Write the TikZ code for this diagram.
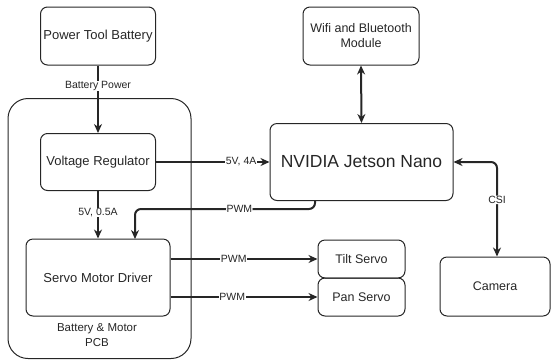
\documentclass[tikz,border=0pt]{standalone}
\usepackage{fontspec}
\setmainfont{Liberation Sans}
\usetikzlibrary{arrows.meta}
\begin{document}
\begin{tikzpicture}[x=1pt,y=-1pt,
  box/.style={draw=black!85, line width=1pt, rounded corners=7pt, align=center, inner sep=0pt, text=black!85},
  conn/.style={line width=2pt, draw=black!85, -{Stealth[length=9pt,width=8pt]}},
  biconn/.style={line width=2pt, draw=black!85, {Stealth[length=9pt,width=8pt]}-{Stealth[length=9pt,width=8pt]}},
  lbl/.style={fill=white, inner sep=0.5pt, font=\fontsize{10.5}{11}\selectfont, text=black!85}]
\useasboundingbox (0,0) rectangle (551,360);
% container
\node[box, rounded corners=20pt, minimum width=183pt, minimum height=260pt] (pcb) at (99.5,228.5) {};
\node[text=black!85, align=center, font=\fontsize{11.5}{15}\selectfont] (pcblbl) at (97,335.5) {Battery \& Motor\\PCB};
% boxes
\node[box, minimum width=115pt, minimum height=58pt, font=\fontsize{13}{15}\selectfont] (bat) at (98,36) {Power Tool Battery};
\node[box, minimum width=115pt, minimum height=57pt, font=\fontsize{13}{15}\selectfont] (vr) at (98,162) {Voltage Regulator};
\node[box, minimum width=144pt, minimum height=77pt, font=\fontsize{13}{15}\selectfont] (smd) at (98,277.5) {Servo Motor Driver};
\node[box, minimum width=183pt, minimum height=77pt, font=\fontsize{17.5}{19}\selectfont] (jet) at (361.5,162) {NVIDIA Jetson Nano};
\node[box, minimum width=116pt, minimum height=58pt, font=\fontsize{12.5}{15}\selectfont] (wifi) at (361,36) {Wifi and Bluetooth\\Module};
\node[box, minimum width=87pt, minimum height=38pt, font=\fontsize{12.5}{14}\selectfont] (tilt) at (361.5,259) {Tilt Servo};
\node[box, minimum width=87pt, minimum height=38pt, font=\fontsize{12.5}{14}\selectfont] (pan) at (361.5,297) {Pan Servo};
\node[box, minimum width=110pt, minimum height=59pt, font=\fontsize{12.5}{14}\selectfont] (cam) at (495,286.5) {Camera};
% connectors
\draw[conn] (bat.south) -- node[lbl, pos=0.3] {Battery Power} (vr.north);
\draw[conn] (vr.east) -- node[lbl, pos=0.75] {5V, 4A} (jet.west);
\draw[conn] (vr.south) -- node[lbl, pos=0.45] {5V, 0.5A} (vr.south |- smd.north);
\coordinate (pwmA) at (315,209);
\draw[conn, rounded corners=6pt] (jet.south -| pwmA) -- (pwmA) -- node[lbl, pos=0.42] {PWM} (135,209) -- (135,239);
\draw[conn] (smd.east |- tilt.west) -- node[lbl, pos=0.43] {PWM} (tilt.west);
\draw[conn] (smd.east |- pan.west) -- node[lbl, pos=0.42] {PWM} (pan.west);
\draw[biconn] (wifi.south) -- (jet.north);
\coordinate (csiA) at (497,162);
\draw[biconn, rounded corners=6pt] (cam.north -| csiA) -- node[lbl, pos=0.6] {CSI} (csiA) -- (jet.east);
\end{tikzpicture}
\end{document}
